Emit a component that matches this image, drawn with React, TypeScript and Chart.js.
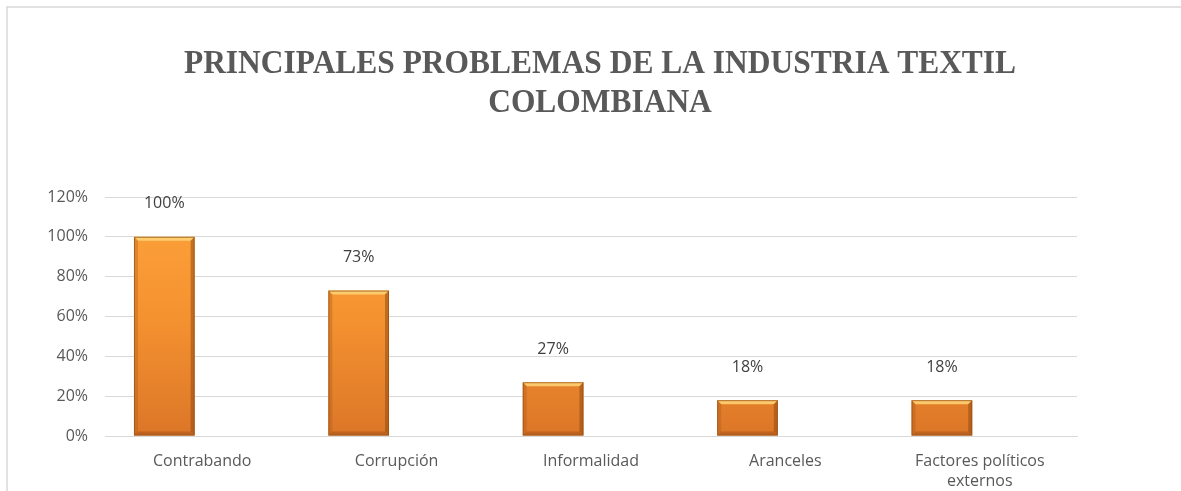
import React, { useEffect, useRef } from "react";
import { Chart, registerables } from "chart.js";

Chart.register(...registerables);

const TITLE_LINES = ["PRINCIPALES PROBLEMAS DE LA INDUSTRIA TEXTIL", "COLOMBIANA"];
const CATEGORIES: (string | string[])[] = [
  "Contrabando",
  "Corrupción",
  "Informalidad",
  "Aranceles",
  ["Factores políticos", "externos"],
];
const VALUES = [1.0, 0.73, 0.27, 0.18, 0.18];
const EMPTY_SERIES = [null, null, null, null, null];
const Y_MIN = 0;
const Y_MAX = 1.2;
const Y_STEP = 0.2;

const TEXT_COLOR = "#595959";
const GRID_COLOR = "#d9d9d9";
const LABEL_FONT = "'Open Sans', 'Noto Sans', sans-serif";

const framePlugin = {
  id: "frame",
  beforeDraw(chart: any) {
    const ctx = chart.ctx;
    ctx.save();
    ctx.fillStyle = "#ffffff";
    ctx.fillRect(0, 0, chart.width, chart.height);
    ctx.strokeStyle = "#d9d9d9";
    ctx.lineWidth = 1.5;
    ctx.beginPath();
    ctx.moveTo(7, chart.height);
    ctx.lineTo(7, 7);
    ctx.lineTo(chart.width, 7);
    ctx.stroke();
    ctx.restore();
  },
};

const titlePlugin = {
  id: "customTitle",
  afterDraw(chart: any) {
    const ctx = chart.ctx;
    ctx.save();
    ctx.fillStyle = TEXT_COLOR;
    ctx.font = "bold 34px 'Liberation Serif', 'Times New Roman', serif";
    ctx.textAlign = "center";
    ctx.textBaseline = "alphabetic";
    const cx = 600;
    const sx = 0.925;
    ctx.translate(cx, 0);
    ctx.scale(sx, 1);
    TITLE_LINES.forEach((line, i) => {
      ctx.fillText(line, 0, 73 + i * 39);
    });
    ctx.restore();
  },
};

const bevelPlugin = {
  id: "bevel",
  afterDatasetsDraw(chart: any) {
    const ctx = chart.ctx;
    const meta = chart.getDatasetMeta(0);
    ctx.save();
    meta.data.forEach((bar: any) => {
      const { x, y, base, width } = bar.getProps(["x", "y", "base", "width"], true);
      const left = x - width / 2;
      const right = x + width / 2;
      const h = base - y;
      if (h <= 0) return;
      ctx.fillStyle = "rgba(255, 214, 120, 0.85)";
      ctx.beginPath();
      ctx.moveTo(left, y);
      ctx.lineTo(right, y);
      ctx.lineTo(right - 4, y + 4);
      ctx.lineTo(left + 4, y + 4);
      ctx.closePath();
      ctx.fill();
      ctx.fillStyle = "rgba(170, 90, 25, 0.35)";
      ctx.beginPath();
      ctx.moveTo(left, y);
      ctx.lineTo(left + 4, y + 4);
      ctx.lineTo(left + 4, base - 4);
      ctx.lineTo(left, base);
      ctx.closePath();
      ctx.fill();
      ctx.fillStyle = "rgba(140, 70, 15, 0.5)";
      ctx.beginPath();
      ctx.moveTo(right, y);
      ctx.lineTo(right - 4, y + 4);
      ctx.lineTo(right - 4, base - 4);
      ctx.lineTo(right, base);
      ctx.closePath();
      ctx.fill();
      ctx.fillStyle = "rgba(150, 75, 20, 0.45)";
      ctx.beginPath();
      ctx.moveTo(left, base);
      ctx.lineTo(left + 4, base - 4);
      ctx.lineTo(right - 4, base - 4);
      ctx.lineTo(right, base);
      ctx.closePath();
      ctx.fill();
      ctx.strokeStyle = "rgba(150, 80, 20, 0.7)";
      ctx.lineWidth = 1;
      ctx.strokeRect(left + 0.5, y + 0.5, width - 1, h - 1);
    });
    ctx.restore();
  },
};

const valueLabelPlugin = {
  id: "valueLabels",
  afterDatasetsDraw(chart: any) {
    const ctx = chart.ctx;
    const meta = chart.getDatasetMeta(0);
    ctx.save();
    ctx.fillStyle = "#404040";
    ctx.font = `16px ${LABEL_FONT}`;
    ctx.textAlign = "center";
    ctx.textBaseline = "middle";
    meta.data.forEach((bar: any, i: number) => {
      const v = VALUES[i];
      ctx.fillText(`${Math.round(v * 100)}%`, bar.x, bar.y - 33);
    });
    ctx.restore();
  },
};

export default function App() {
  const canvasRef = useRef<HTMLCanvasElement | null>(null);

  useEffect(() => {
    if (!canvasRef.current) return;
    const chart = new Chart(canvasRef.current, {
      type: "bar",
      data: {
        labels: CATEGORIES,
        datasets: [
          {
            label: "Serie 1",
            data: VALUES,
            backgroundColor: (c: any) => {
              const area = c.chart.chartArea;
              if (!area) return "#f0882e";
              const g = c.chart.ctx.createLinearGradient(0, area.top, 0, area.bottom);
              g.addColorStop(0, "#fda43c");
              g.addColorStop(0.5, "#f59230");
              g.addColorStop(1, "#dc7628");
              return g;
            },
            borderWidth: 0,
          },
          {
            label: "Serie 2",
            data: EMPTY_SERIES,
            backgroundColor: "rgba(0,0,0,0)",
          },
        ],
      },
      options: {
        animation: false,
        responsive: false,
        maintainAspectRatio: false,
        devicePixelRatio: 1,
        layout: { padding: { left: 0, right: 104, top: 197, bottom: 0 } },
        datasets: {
          bar: { categoryPercentage: 0.78, barPercentage: 0.8 },
        },
        plugins: {
          legend: { display: false },
          title: { display: false },
          tooltip: { enabled: false },
        },
        scales: {
          x: {
            grid: { display: false, drawTicks: false },
            border: { display: true, color: GRID_COLOR, width: 1 },
            ticks: {
              color: TEXT_COLOR,
              font: { family: LABEL_FONT, size: 16, lineHeight: 1.25 },
              padding: 15,
              maxRotation: 0,
              autoSkip: false,
            },
            afterFit: (s: any) => {
              s.height = 55;
            },
          },
          y: {
            min: Y_MIN,
            max: Y_MAX,
            grid: { color: GRID_COLOR, drawTicks: false, lineWidth: 1 },
            border: { display: false },
            ticks: {
              stepSize: Y_STEP,
              color: TEXT_COLOR,
              font: { family: LABEL_FONT, size: 16 },
              padding: 17,
              callback: (v: any) => `${Math.round(Number(v) * 100)}%`,
            },
            afterFit: (s: any) => {
              s.width = 105;
            },
          },
        },
      },
      plugins: [framePlugin, titlePlugin, bevelPlugin, valueLabelPlugin],
    });
    return () => chart.destroy();
  }, []);

  return (
    <div style={{ position: "fixed", left: 0, top: 0, width: 1181, height: 491, background: "#fff" }}>
      <canvas ref={canvasRef} width={1181} height={491} style={{ display: "block", width: 1181, height: 491 }} />
    </div>
  );
}
